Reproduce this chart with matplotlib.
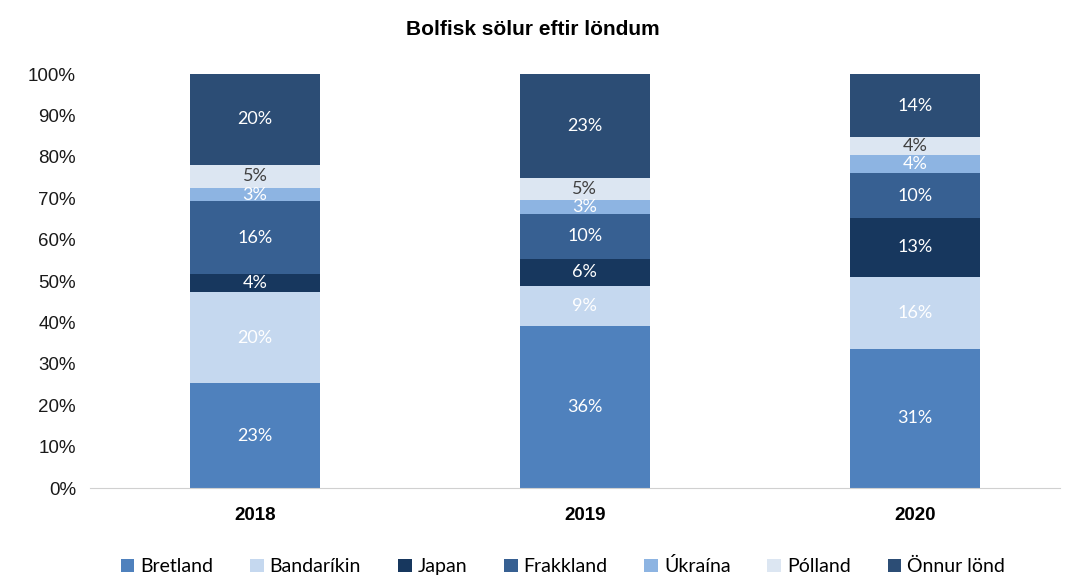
import matplotlib
matplotlib.use("Agg")
import matplotlib.pyplot as plt
import numpy as np

# gögn
years = ["2018", "2019", "2020"]
countries = ["Bretland", "Bandaríkin", "Japan", "Frakkland", "Úkraína", "Pólland", "Önnur lönd"]
bretland = [23, 36, 31]
bandarikin = [20, 9, 16]
japan = [4, 6, 13]
frakkland = [16, 10, 10]
ukraina = [3, 3, 4]
polland = [5, 5, 4]
onnur = [20, 23, 14]

colors = ["#4F81BD", "#C5D8EF", "#17375E", "#376092", "#8DB4E2", "#DCE6F2", "#2C4D75"]
label_colors = ["white", "white", "white", "white", "white", "#404040", "white"]

series = [bretland, bandarikin, japan, frakkland, ukraina, polland, onnur]
totals = np.sum(series, axis=0)

fig = plt.figure(figsize=(10.66, 5.75), dpi=100)
ax = fig.add_axes([0.0844, 0.1513, 0.91, 0.72])

x = np.arange(len(years))
bottom = np.zeros(len(years))
for name, vals, col, lc in zip(countries, series, colors, label_colors):
    h = np.array(vals) / totals
    ax.bar(x, h, 0.394, bottom=bottom, color=col, label=name)
    for xi, bi, hi, v in zip(x, bottom, h, vals):
        ax.text(xi, bi + hi / 2, f"{v}%", ha="center", va="center",
                color=lc, fontsize=13, family="Lato")
    bottom += h

ax.set_xlim(-0.5, 2.44)
ax.set_ylim(0, 1)
ax.set_yticks(np.arange(0, 1.01, 0.1))
ax.set_yticklabels([f"{int(round(t*100))}%" for t in np.arange(0, 1.01, 0.1)],
                   fontsize=13.5, family="Liberation Sans", color="#1a1a1a")
ax.set_xticks(x)
ax.set_xticklabels(years, fontsize=13.5, fontweight="bold", family="Liberation Sans")
ax.tick_params(axis="both", length=0)
ax.tick_params(axis="x", pad=14)
ax.tick_params(axis="y", pad=10)
for s in ["top", "right", "left"]:
    ax.spines[s].set_visible(False)
ax.spines["bottom"].set_color("#d0d0d0")

fig.text(0.5, 0.948, "Bolfisk sölur eftir löndum", ha="center", va="center",
         fontsize=15, fontweight="bold", family="Liberation Sans")

fig.legend(loc="center", bbox_to_anchor=(0.528, 0.015), ncol=7, frameon=False,
           prop={"family": "Lato", "size": 14}, handlelength=0.7, handleheight=0.7,
           columnspacing=1.9, handletextpad=0.3,
           bbox_transform=fig.transFigure)

fig.savefig("out.png", dpi=100)
